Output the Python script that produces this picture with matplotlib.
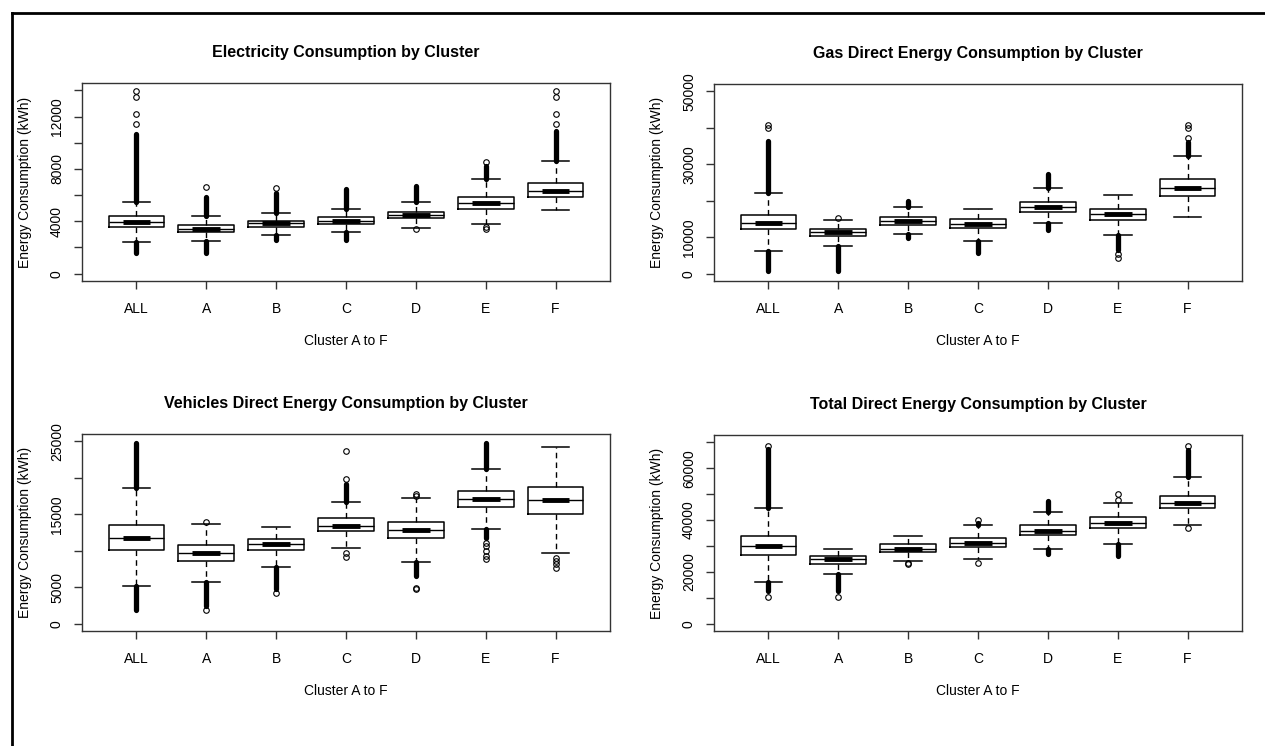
import matplotlib
matplotlib.use("Agg")
import matplotlib.pyplot as plt
from matplotlib.lines import Line2D

plt.rcParams['font.family'] = ['Liberation Sans', 'DejaVu Sans']

clusters = ["ALL", "A", "B", "C", "D", "E", "F"]

# Electricity
elec_q1 = [3590, 3155, 3590, 3770, 4230, 4920, 5850]
elec_med = [3920, 3410, 3850, 4050, 4490, 5360, 6280]
elec_q3 = [4440, 3690, 4050, 4330, 4740, 5870, 6920]
elec_lo = [2390, 2510, 2950, 3150, 3510, 3770, 4870]
elec_hi = [5510, 4410, 4620, 4950, 5510, 7230, 8590]
elec_runs = [[(1540, 2390), (5510, 10650)], [(1540, 2510), (4410, 5850)],
             [(2560, 2950), (4620, 6150)], [(2560, 3150), (4950, 6460)],
             [(5510, 6720)], [(7230, 8260)], [(8590, 10900)]]
elec_out = [[11450, 12180, 13460, 13950], [6590], [6540], [], [3380],
            [3590, 3380, 8560], [11450, 12180, 13460, 13950]]

# Gas
gas_q1 = [12130, 10300, 13300, 12490, 17050, 14770, 21430]
gas_med = [13950, 11310, 14410, 13680, 18330, 16320, 23440]
gas_q3 = [15960, 12220, 15500, 14870, 19790, 17780, 25900]
gas_lo = [6200, 7660, 10850, 9030, 13860, 10490, 15500]
gas_hi = [22070, 14770, 18240, 17690, 23440, 21700, 32380]
gas_runs = [[(730, 6200), (22070, 36480)], [(730, 7660)],
            [(18240, 20060), (9850, 10850)], [(5650, 9030)],
            [(23440, 27360), (11860, 13860)], [(6380, 10490)], [(32380, 36020)]]
gas_out = [[39850, 40770], [15320], [], [], [], [5470, 4380],
           [37120, 39850, 40770]]

# Vehicles
veh_q1 = [10100, 8590, 10050, 12660, 11700, 15950, 14990]
veh_med = [11700, 9690, 10970, 13440, 12890, 17050, 16910]
veh_q3 = [13570, 10740, 11560, 14440, 13980, 18230, 18780]
veh_lo = [5210, 5710, 7810, 10370, 8410, 13020, 9690]
veh_hi = [18650, 13710, 13300, 16730, 17180, 21200, 24270]
veh_runs = [[(1870, 5210), (18650, 24800)], [(2420, 5710)], [(4800, 7810)],
            [(16730, 19100)], [(6540, 8410)], [(21200, 24720), (11790, 13020)], []]
veh_out = [[], [13940, 1870], [4250], [19880, 23670, 9730, 9190],
           [17500, 17820, 4710, 4940], [11100, 10640, 10000, 9280, 8820],
           [9050, 8590, 8130, 7680]]

# Total
tot_q1 = [26400, 23180, 27560, 29750, 34130, 36970, 44820]
tot_med = [29880, 24860, 28980, 31300, 35940, 39030, 46750]
tot_q3 = [33870, 26150, 30650, 33230, 38000, 41340, 49330]
tot_lo = [16100, 19190, 24210, 24860, 28980, 30910, 38000]
tot_hi = [44820, 28980, 33870, 38000, 43150, 46750, 56670]
tot_runs = [[(12620, 16100), (44820, 67360)], [(12620, 19190)], [],
            [(38000, 39020)], [(43150, 47270), (27050, 28980)],
            [(26150, 30910)], [(56670, 67100)]]
tot_out = [[68390, 10430], [10430], [23570, 22930], [40060, 23570], [],
           [47660, 49970], [68390, 36840]]

W, H = 1265, 746
fig = plt.figure(figsize=(W / 100, H / 100), dpi=100)

# outer frame (top and left edges)
fig.add_artist(Line2D([12 / W, 1], [1 - 13 / H, 1 - 13 / H], color='black', lw=2))
fig.add_artist(Line2D([12 / W, 12 / W], [1 - 13 / H, 0], color='black', lw=2))


def panel(rect, title, q1, med, q3, lo, hi, runs, out, ylim, ticks, labels):
    l, t, r, b = rect
    ax = fig.add_axes([l / W, 1 - b / H, (r - l) / W, (b - t) / H])
    stats = []
    for i in range(len(clusters)):
        stats.append(dict(med=med[i], q1=q1[i], q3=q3[i], whislo=lo[i],
                          whishi=hi[i], fliers=out[i], label=clusters[i]))
    pos = list(range(1, len(clusters) + 1))
    ax.bxp(stats, positions=pos, widths=0.8, capwidths=0.4,
           boxprops=dict(color='black', lw=1.1),
           whiskerprops=dict(color='black', lw=1.0, linestyle=(0, (4, 3))),
           capprops=dict(color='black', lw=1.1),
           medianprops=dict(color='black', lw=1.0),
           flierprops=dict(marker='o', mfc='none', mec='black', ms=4, mew=0.8))
    ax.hlines(med, [p - 0.2 for p in pos], [p + 0.2 for p in pos],
              color='black', lw=3.5, zorder=4)
    for p, rr in zip(pos, runs):
        for a, z in rr:
            ax.vlines(p, a, z, color='black', lw=3.8, capstyle='round', zorder=3)
    ax.set_xlim(0.22, 7.78)
    ax.set_ylim(*ylim)
    ax.set_yticks(ticks)
    ax.set_yticklabels(labels)
    for s in ax.spines.values():
        s.set_color('#333333')
        s.set_linewidth(1.0)
    ax.tick_params(axis='both', length=6, width=1, color='#333333',
                   labelsize=10, direction='out')
    ax.tick_params(axis='x', pad=9)
    ax.tick_params(axis='y', pad=7, labelrotation=90)
    for lab in ax.get_yticklabels():
        lab.set_va('center')
    ax.set_title(title, fontsize=11.5, fontweight='bold', pad=19)
    ax.set_xlabel("Cluster A to F", fontsize=10)
    ax.set_ylabel("Energy Consumption (kWh)", fontsize=10)
    ax.xaxis.set_label_coords(0.5, -60 / (b - t))
    ax.xaxis.label.set_va('center')
    ax.yaxis.set_label_coords(-57 / (r - l), 0.5)
    ax.yaxis.label.set_va('center')
    return ax


panel((82, 83, 610, 281), "Electricity Consumption by Cluster",
      elec_q1, elec_med, elec_q3, elec_lo, elec_hi, elec_runs, elec_out,
      (-560, 14560), [0, 2000, 4000, 6000, 8000, 10000, 12000, 14000],
      ["0", "", "4000", "", "8000", "", "12000", ""])
panel((714, 84, 1242, 281), "Gas Direct Energy Consumption by Cluster",
      gas_q1, gas_med, gas_q3, gas_lo, gas_hi, gas_runs, gas_out,
      (-2000, 52000), [0, 10000, 20000, 30000, 40000, 50000],
      ["0", "10000", "", "30000", "", "50000"])
panel((82, 434, 610, 631), "Vehicles Direct Energy Consumption by Cluster",
      veh_q1, veh_med, veh_q3, veh_lo, veh_hi, veh_runs, veh_out,
      (-1000, 26000), [0, 5000, 10000, 15000, 20000, 25000],
      ["0", "5000", "", "15000", "", "25000"])
panel((714, 435, 1242, 631), "Total Direct Energy Consumption by Cluster",
      tot_q1, tot_med, tot_q3, tot_lo, tot_hi, tot_runs, tot_out,
      (-2800, 72800), [0, 10000, 20000, 30000, 40000, 50000, 60000, 70000],
      ["0", "", "20000", "", "40000", "", "60000", ""])

fig.savefig("out.png", dpi=100)
